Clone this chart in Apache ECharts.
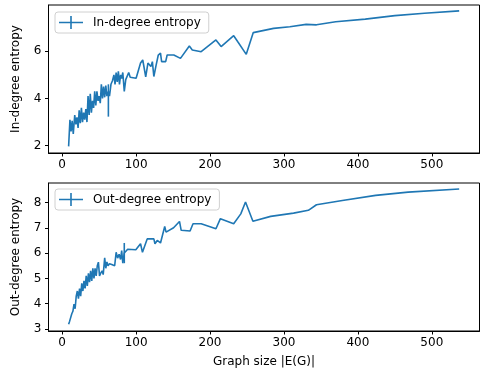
<!DOCTYPE html>
<html>
<head>
<meta charset="utf-8">
<script src="https://cdn.jsdelivr.net/npm/echarts@6/dist/echarts.min.js"></script>
<style>
html,body{margin:0;padding:0;background:#fff;}
#c{width:481px;height:374px;}
</style>
</head>
<body>
<div id="c"></div>
<script>
// ---- Data ----
const inX = [8.7,10.5,12,13.5,15,17,18.5,20,21.5,23,24.5,26,27.5,29,30.5,32,33.5,35,36.5,38,39.5,41,42.5,44,45.5,47,48.5,50,51.5,53,54.5,56,57.5,59,60.5,62.5,64,66,68,70,71.5,73,74.5,76,77.5,79,80.5,82,84,86,88,90,92,100,106,109,113,116,120,122,124,127,130,133,134.5,140,142,151,160,172,176,188,208,215,232,238,249,258.5,286,308,330,344,370,410,450,490,537];
const inY = [1.97,3.1,2.6,3.05,2.5,3.3,2.9,3.2,2.75,3.5,2.95,3.6,3.0,3.4,3.1,3.55,3.0,4.1,3.3,4.2,3.4,3.9,3.6,4.3,3.7,4.3,3.9,4.1,3.8,4.6,4.0,4.5,4.05,4.55,4.1,4.3,4.1,4.6,4.75,5.0,4.6,5.1,4.7,5.15,4.6,5.0,4.85,5.1,4.3,4.8,4.75,5.1,4.9,4.86,5.5,5.63,4.92,5.5,5.35,5.56,4.93,5.4,5.84,5.92,5.56,5.56,5.84,5.84,5.70,6.22,6.05,5.98,6.48,6.2,6.66,6.38,5.87,6.79,6.97,7.04,7.14,7.12,7.25,7.36,7.51,7.61,7.71];
const inErrX = [62.5];
const inErrLow = [3.23];
const inErrHigh = [4.6];

const outX = [8.7,10,11.5,13,14.5,16,17.5,19,20.5,22,23.5,25,26.5,28,29.5,31,32.5,34,35.5,37,38.5,40,41.5,43,44.5,46,47.5,49,50.5,52,54,55.5,57.5,59,60.5,62,64,67,71,73,75,77,79,80.5,82,84,86,88.6,99.6,106,108.6,115,124,125.5,128.6,133,138.7,140.5,150.7,158.7,161,173,177,188,208,214,232,241.6,248,258,282,313,333,344,379,424,468,537];
const outY = [3.19,3.3,3.25,3.6,3.7,3.98,3.8,4.3,4.5,4.2,4.6,4.3,4.8,4.5,4.9,4.6,5.1,4.7,5.2,4.85,5.3,4.9,5.4,5.0,5.4,5.1,5.5,5.64,5.1,5.2,5.3,5.15,5.81,5.4,5.65,5.5,5.58,5.55,5.5,6.03,5.8,5.95,5.75,6.1,5.6,6.0,6.05,6.15,6.13,6.37,6.03,6.56,6.56,6.37,6.5,6.4,7.05,6.83,7.0,7.25,6.9,6.87,7.16,7.16,6.96,7.36,7.16,7.55,8.02,7.26,7.45,7.58,7.69,7.91,8.08,8.28,8.41,8.53];
const outErrX = [84];
const outErrLow = [5.6];
const outErrHigh = [6.4];

const xTicks = [0,100,200,300,400,500];
const inTicks = [2,4,6];
const outTicks = [3,4,5,6,7,8];

const BLUE = '#1f77b4';
const FONT = 'DejaVu Sans';
const FS = 12;

function pairs(xs, ys){ return xs.map((x,i)=>[x, ys[i]]); }
function errData(xs, lo, hi){ return xs.map((x,i)=>[x, lo[i], hi[i]]); }

function errSeries(idx, data){
  return {
    type:'custom', xAxisIndex:idx, yAxisIndex:idx, silent:true,
    data:data,
    encode:{x:0, y:[1,2]},
    renderItem:function(params, api){
      const p1 = api.coord([api.value(0), api.value(1)]);
      const p2 = api.coord([api.value(0), api.value(2)]);
      return {type:'line', shape:{x1:p1[0],y1:p1[1],x2:p2[0],y2:p2[1]}, style:{stroke:BLUE, lineWidth:1.6}};
    }
  };
}

function xAxis(idx, showName){
  return {
    type:'value', gridIndex:idx, min:-18.5, max:564.5,
    splitLine:{show:false},
    axisLine:{show:true, onZero:false, lineStyle:{color:'#000', width:1}},
    axisTick:{show:true, customValues:xTicks, length:3.5, lineStyle:{color:'#000'}},
    axisLabel:{customValues:xTicks, color:'#000', fontFamily:FONT, fontSize:FS, margin:6},
    name: showName ? 'Graph size |E(G)|' : '',
    nameLocation:'middle', nameGap:25,
    nameTextStyle:{color:'#000', fontFamily:FONT, fontSize:FS}
  };
}
function yAxis(idx, min, max, ticks, name){
  return {
    type:'value', gridIndex:idx, min:min, max:max,
    splitLine:{show:false},
    axisLine:{show:true, onZero:false, lineStyle:{color:'#000', width:1}},
    axisTick:{show:true, customValues:ticks, length:3.5, lineStyle:{color:'#000'}},
    axisLabel:{customValues:ticks, color:'#000', fontFamily:FONT, fontSize:FS, margin:7},
    name:name, nameLocation:'middle', nameGap:27,
    nameTextStyle:{color:'#000', fontFamily:FONT, fontSize:FS}
  };
}

const legendIcon = 'path://M0,5.7h24v1.6h-24z M11.2,0h1.6v13h-1.6z';

function legend(name, top){
  return {data:[{name:name, icon:legendIcon}], left:55, top:top, orient:'vertical',
    itemWidth:24, itemHeight:13, itemGap:5, padding:[4,8,4,4],
    backgroundColor:'rgba(255,255,255,0.8)', borderColor:'#d0d0d0', borderWidth:1, borderRadius:3,
    textStyle:{color:'#000', fontFamily:FONT, fontSize:FS, padding:[0,0,0,5]}};
}

const chart = echarts.init(document.getElementById('c'), null, {renderer:'canvas'});
chart.setOption({
  animation:false,
  backgroundColor:'#fff',
  grid:[
    {left:48.5, right:1.5, top:5, height:148, show:true, borderColor:'#000', borderWidth:1, backgroundColor:'transparent'},
    {left:48.5, right:1.5, top:183, height:148, show:true, borderColor:'#000', borderWidth:1, backgroundColor:'transparent'}
  ],
  legend:[legend('In-degree entropy', 12), legend('Out-degree entropy', 189)],
  xAxis:[xAxis(0,false), xAxis(1,true)],
  yAxis:[yAxis(0,1.69,7.96,inTicks,'In-degree entropy'), yAxis(1,2.92,8.77,outTicks,'Out-degree entropy')],
  series:[
    {name:'In-degree entropy', type:'line', xAxisIndex:0, yAxisIndex:0, data:pairs(inX,inY),
     showSymbol:false, symbol:'none', lineStyle:{color:BLUE, width:1.6}, itemStyle:{color:BLUE}},
    errSeries(0, errData(inErrX,inErrLow,inErrHigh)),
    {name:'Out-degree entropy', type:'line', xAxisIndex:1, yAxisIndex:1, data:pairs(outX,outY),
     showSymbol:false, symbol:'none', lineStyle:{color:BLUE, width:1.6}, itemStyle:{color:BLUE}},
    errSeries(1, errData(outErrX,outErrLow,outErrHigh))
  ]
});
</script>
</body>
</html>
